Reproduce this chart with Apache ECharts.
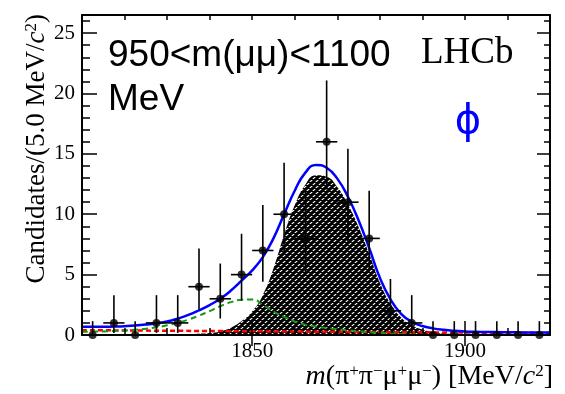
<!DOCTYPE html>
<html>
<head>
<meta charset="utf-8">
<script src="https://cdn.jsdelivr.net/npm/echarts@6/dist/echarts.min.js"></script>
<style>
  html, body { margin: 0; padding: 0; background: #fff; }
  #chart { width: 565px; height: 394px; }
</style>
</head>
<body>
<div id="chart"></div>
<script>
// Binned candidates: bin centres (MeV/c^2), counts and asymmetric Poisson error-bar ends
const binCenters = [1812.5, 1817.5, 1822.5, 1827.5, 1832.5, 1837.5, 1842.5, 1847.5, 1852.5, 1857.5, 1862.5,
                    1867.5, 1872.5, 1877.5, 1882.5, 1887.5, 1892.5, 1897.5, 1902.5, 1907.5, 1912.5, 1917.5];
const counts     = [0, 1, 0, 1, 1, 4, 3, 5, 7, 10, 8, 16, 11, 8, 2, 1, 0, 0, 0, 0, 0, 0];
const errLow     = [0, 0.173, 0, 0.173, 0.173, 2.086, 1.367, 2.840, 4.419, 6.891, 5.232,
                    12.04, 7.734, 5.232, 0.708, 0.173, 0, 0, 0, 0, 0, 0];
const errHigh    = [1.148, 3.300, 1.148, 3.300, 3.300, 7.163, 5.918, 8.382, 10.77, 14.27, 11.95,
                    21.08, 15.42, 11.95, 4.638, 3.300, 1.148, 1.148, 1.148, 1.148, 1.148, 1.148];
const binHalfWidth = 2.5;

// Fit components sampled every 2.5 MeV/c^2 along the mass axis
const curveX = [1810, 1812.5, 1815, 1817.5, 1820, 1822.5, 1825, 1827.5, 1830, 1832.5, 1835, 1837.5,
                1840, 1842.5, 1845, 1847.5, 1850, 1852.5, 1855, 1857.5, 1860, 1862.5, 1865, 1867.5,
                1870, 1872.5, 1875, 1877.5, 1880, 1882.5, 1885, 1887.5, 1890, 1892.5, 1895, 1897.5,
                1900, 1902.5, 1905, 1907.5, 1910, 1912.5, 1915, 1917.5, 1920];
const totalFit = [0.68, 0.68, 0.68, 0.70, 0.73, 0.78, 0.86, 0.97, 1.12, 1.36, 1.66, 2.04,
                  2.48, 3.0, 3.68, 4.5, 5.35, 6.45, 8.0, 10.0, 11.95, 13.45, 14.08, 13.85,
                  12.95, 11.45, 9.5, 7.2, 4.75, 2.95, 1.75, 1.1, 0.74, 0.55, 0.43, 0.35,
                  0.3, 0.27, 0.25, 0.24, 0.23, 0.22, 0.21, 0.2, 0.2];
const signalFit = [0, 0, 0, 0.005, 0.01, 0.015, 0.02, 0.03, 0.04, 0.06, 0.08, 0.11,
                   0.16, 0.3, 0.6, 1.15, 1.95, 3.3, 5.5, 8.3, 10.75, 12.45, 13.22, 13.1,
                   12.25, 10.8, 8.95, 6.75, 4.35, 2.6, 1.45, 0.8, 0.45, 0.25, 0.14, 0.08,
                   0.05, 0.03, 0.02, 0.01, 0.01, 0, 0, 0, 0];
const peakingBkg = [0.27, 0.28, 0.3, 0.33, 0.38, 0.44, 0.52, 0.64, 0.8, 1.02, 1.28, 1.6,
                    1.98, 2.38, 2.72, 2.92, 2.95, 2.5, 1.95, 1.5, 1.12, 0.86, 0.7, 0.58,
                    0.48, 0.39, 0.31, 0.24, 0.18, 0.12, 0.08, 0.05, 0.03, 0.02, 0.01, 0,
                    0, 0, 0, 0, 0, 0, 0, 0, 0];
const combX   = [1810, 1840, 1870, 1900, 1920];
const combBkg = [0.4, 0.33, 0.26, 0.2, 0.17];

const xTickMajor = [1850, 1900];
const yTickLabels = [0, 5, 10, 15, 20, 25];

const pairs = (xs, ys) => xs.map((x, i) => [x, ys[i]]);

// Checkered diagonal fill used for the signal component
function hatchTile() {
  const c = document.createElement('canvas');
  c.width = 6; c.height = 6;
  const g = c.getContext('2d');
  g.fillStyle = '#000';
  g.fillRect(0, 0, 6, 6);
  g.strokeStyle = '#fff';
  g.lineWidth = 1.2;
  g.beginPath();
  g.moveTo(0, 6); g.lineTo(6, 0);
  g.moveTo(-3, 3); g.lineTo(3, -3);
  g.moveTo(3, 9); g.lineTo(9, 3);
  g.stroke();
  g.fillStyle = '#000';
  g.fillRect(0, 2, 6, 1);
  g.fillRect(0, 5, 6, 1);
  return c;
}

const chart = echarts.init(document.getElementById('chart'), null, { renderer: 'canvas' });

const serif = '"Liberation Serif", "Times New Roman", serif';
const sans = '"Liberation Sans", Arial, sans-serif';
const XMIN = 1810, XMAX = 1920, YMIN = 0, YMAX = 26.5;

const baseX = { type: 'value', min: XMIN, max: XMAX, splitLine: { show: false }, z: 5 };
const baseY = { type: 'value', min: YMIN, max: YMAX, splitLine: { show: false }, z: 5 };
const axisLine = { show: true, onZero: false, lineStyle: { color: '#000', width: 2 } };

chart.setOption({
  animation: false,
  backgroundColor: '#fff',
  grid: { left: 82, right: 15, top: 15, bottom: 59, containLabel: false },
  xAxis: [
    Object.assign({}, baseX, {
      position: 'bottom', interval: 10,
      axisLine: axisLine,
      axisTick: { inside: true, length: 7, lineStyle: { color: '#000', width: 1.5 } },
      axisLabel: { color: '#000', fontFamily: serif, fontSize: 21, margin: 6,
                   formatter: v => (xTickMajor.indexOf(v) >= 0 ? String(v) : '') }
    }),
    Object.assign({}, baseX, {
      position: 'bottom',
      axisLine: { show: false },
      axisTick: { inside: true, length: 14, customValues: xTickMajor, lineStyle: { color: '#000', width: 1.5 } },
      axisLabel: { show: false }
    }),
    Object.assign({}, baseX, {
      position: 'top', interval: 10,
      axisLine: axisLine,
      axisTick: { inside: true, length: 5, lineStyle: { color: '#000', width: 1.5 } },
      axisLabel: { show: false }
    }),
    Object.assign({}, baseX, {
      position: 'top',
      axisLine: { show: false },
      axisTick: { inside: true, length: 11, customValues: xTickMajor, lineStyle: { color: '#000', width: 1.5 } },
      axisLabel: { show: false }
    })
  ],
  yAxis: [
    Object.assign({}, baseY, {
      position: 'left', interval: 5,
      axisLine: axisLine,
      axisTick: { inside: true, length: 15, lineStyle: { color: '#000', width: 1.5 } },
      axisLabel: { color: '#000', fontFamily: serif, fontSize: 21, margin: 7, showMaxLabel: false,
                   formatter: v => (yTickLabels.indexOf(v) >= 0 ? String(v) : '') }
    }),
    Object.assign({}, baseY, {
      position: 'left', interval: 1,
      axisLine: { show: false },
      axisTick: { inside: true, length: 8, lineStyle: { color: '#000', width: 1.5 } },
      axisLabel: { show: false }
    }),
    Object.assign({}, baseY, {
      position: 'right', interval: 5,
      axisLine: axisLine,
      axisTick: { inside: true, length: 13, lineStyle: { color: '#000', width: 1.5 } },
      axisLabel: { show: false }
    }),
    Object.assign({}, baseY, {
      position: 'right', interval: 1,
      axisLine: { show: false },
      axisTick: { inside: true, length: 6, lineStyle: { color: '#000', width: 1.5 } },
      axisLabel: { show: false }
    })
  ],
  series: [
    {
      name: 'signal', type: 'line', data: pairs(curveX, signalFit),
      smooth: 0.5, showSymbol: false, z: 1,
      lineStyle: { width: 0 },
      areaStyle: { color: { image: hatchTile(), repeat: 'repeat' }, opacity: 1 }
    },
    {
      name: 'combinatorial', type: 'line', data: pairs(combX, combBkg),
      smooth: 0.3, showSymbol: false, z: 2,
      lineStyle: { color: '#ff0000', width: 2.5, type: [5, 3] }
    },
    {
      name: 'peaking', type: 'line', data: pairs(curveX, peakingBkg),
      smooth: 0.5, showSymbol: false, z: 3,
      lineStyle: { color: '#139a13', width: 2, type: [6, 4] }
    },
    {
      name: 'total', type: 'line', data: pairs(curveX, totalFit),
      smooth: 0.5, showSymbol: false, z: 4,
      lineStyle: { color: '#0000ff', width: 2.5 }
    },
    {
      name: 'errors', type: 'custom', z: 6,
      data: binCenters.map((x, i) => [x, counts[i], errLow[i], errHigh[i]]),
      renderItem: function (params, api) {
        const x = api.value(0), y = api.value(1);
        const lo = api.coord([x, api.value(2)]);
        const hi = api.coord([x, api.value(3)]);
        const left = api.coord([x - binHalfWidth, y]);
        const right = api.coord([x + binHalfWidth, y]);
        const st = { stroke: '#000', lineWidth: 1.6 };
        return {
          type: 'group',
          children: [
            { type: 'line', shape: { x1: lo[0], y1: lo[1], x2: hi[0], y2: hi[1] }, style: st },
            { type: 'line', shape: { x1: left[0], y1: left[1], x2: right[0], y2: right[1] }, style: st }
          ]
        };
      }
    },
    {
      name: 'data', type: 'scatter', z: 7,
      data: pairs(binCenters, counts),
      symbol: 'circle', symbolSize: 8,
      itemStyle: { color: '#000' }
    }
  ],
  graphic: [
    { type: 'text', z: 10, style: { text: '950<m(μμ)<1100', x: 108, y: 56, font: '37px ' + sans,
      fill: '#000', textVerticalAlign: 'middle' } },
    { type: 'text', z: 10, style: { text: 'MeV', x: 108, y: 100, font: '37px ' + sans,
      fill: '#000', textVerticalAlign: 'middle' } },
    { type: 'text', z: 10, style: { text: 'LHCb', x: 421, y: 53, font: '37px ' + serif,
      fill: '#000', textVerticalAlign: 'middle' } },
    { type: 'text', z: 10, style: { text: 'ϕ', x: 468, y: 123, font: '40px "DejaVu Sans", sans-serif',
      fill: '#0000ff', textAlign: 'center', textVerticalAlign: 'middle' } },
    {
      type: 'text', z: 10, x: 37, y: 14, rotation: Math.PI / 2,
      style: {
        text: '{n|Candidates/(5.0 MeV/}{i|c}{s|2}{n|)}',
        textAlign: 'right', textVerticalAlign: 'middle',
        rich: {
          n: { fontFamily: serif, fontSize: 27, fill: '#000' },
          i: { fontFamily: serif, fontSize: 27, fontStyle: 'italic', fill: '#000' },
          s: { fontFamily: serif, fontSize: 17, fill: '#000', verticalAlign: 'top' }
        }
      }
    },
    {
      type: 'text', z: 10, x: 553, y: 377,
      style: {
        text: '{i|m}{n|(π}{s|+}{n|π}{s|−}{n|μ}{s|+}{n|μ}{s|−}{n|) [MeV/}{i|c}{s|2}{n|]}',
        textAlign: 'right', textVerticalAlign: 'middle',
        rich: {
          n: { fontFamily: serif, fontSize: 28, fill: '#000' },
          i: { fontFamily: serif, fontSize: 28, fontStyle: 'italic', fill: '#000' },
          s: { fontFamily: serif, fontSize: 17, fill: '#000', verticalAlign: 'top' }
        }
      }
    }
  ]
});
</script>
</body>
</html>
